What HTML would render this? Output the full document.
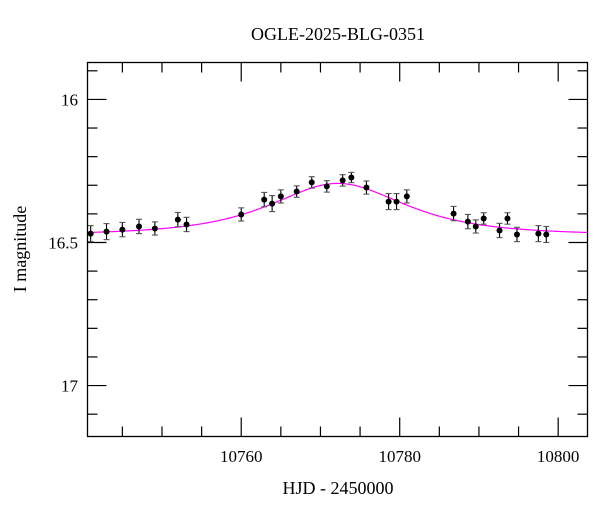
<!DOCTYPE html>
<html><head><meta charset="utf-8"><style>
html,body{margin:0;padding:0;background:#fff;}
svg{display:block;font-family:"Liberation Serif",serif;}
</style></head><body>
<svg id="chart" width="600" height="512" viewBox="0 0 600 512" xmlns="http://www.w3.org/2000/svg">
<text x="338" y="40" text-anchor="middle" font-size="18">OGLE-2025-BLG-0351</text>
<text x="338" y="494" text-anchor="middle" font-size="18">HJD - 2450000</text>
<text transform="translate(26,249) rotate(-90)" text-anchor="middle" font-size="18">I magnitude</text>
<g id="ticks"></g>
<g id="model"></g>
<g id="points"></g>
<rect x="87.5" y="62.5" width="500" height="374" fill="none" stroke="#000" stroke-width="1.3"/>
</svg>
<script>
const times=[10741,10743,10745,10747.1,10749.1,10752,10753.1,10760,10762.9,10763.9,10765,10767,10768.9,10770.8,10772.8,10773.9,10775.8,10778.6,10779.6,10780.9,10786.8,10788.6,10789.6,10790.6,10792.6,10793.6,10794.8,10797.5,10798.5];
const mags=[16.469,16.462,16.455,16.444,16.451,16.420,16.437,16.402,16.350,16.364,16.339,16.322,16.290,16.304,16.283,16.273,16.308,16.357,16.357,16.339,16.399,16.427,16.444,16.416,16.458,16.416,16.472,16.469,16.472];
const errs=[0.028,0.028,0.025,0.025,0.023,0.025,0.025,0.023,0.025,0.028,0.023,0.020,0.020,0.020,0.020,0.018,0.023,0.028,0.028,0.023,0.025,0.025,0.023,0.020,0.025,0.020,0.025,0.028,0.028];
const xTickLabels=[10760,10780,10800];
const yTickLabels=[16,16.5,17];
const model={t0:10772.2,tE:10.5,u0:1.0,fs:0.526,base:16.473};
const X0=10740.6,X1=10803.7,Y0=15.871,Y1=17.178;
const L=87.5,R=587.5,T=62.5,B=436.5;
const sx=t=>L+(t-X0)/(X1-X0)*(R-L);
const sy=m=>T+(m-Y0)/(Y1-Y0)*(B-T);
const NS="http://www.w3.org/2000/svg";
function mk(tag,parent,attrs){const e=document.createElementNS(NS,tag);for(const k in attrs)e.setAttribute(k,attrs[k]);parent.appendChild(e);return e;}
const tg=document.getElementById('ticks');
for(let t=10745;t<=10800;t+=5){
  const major=(t%20===0);const len=major?19:10;const x=sx(t);
  const l1=mk('line',tg,{x1:x,x2:x,y1:B,y2:B-len,stroke:'#000','stroke-width':1.2});
  
  
  const l2=mk('line',tg,{x1:x,x2:x,y1:T,y2:T+len,stroke:'#000','stroke-width':1.2});
  
  
}
xTickLabels.forEach(v=>{
  const tx=mk('text',tg,{x:sx(v),y:462,'text-anchor':'middle','font-size':17});
  tx.textContent=v;
  
  
});
for(let i=0;i<=12;i++){
  const m=15.9+i*0.1;if(m<Y0||m>Y1)continue;
  const major=Math.abs(m*2-Math.round(m*2))<1e-6;const len=major?19:10;const y=sy(m);
  const l1=mk('line',tg,{x1:L,x2:L+len,y1:y,y2:y,stroke:'#000','stroke-width':1.2});
  
  
  const l2=mk('line',tg,{x1:R,x2:R-len,y1:y,y2:y,stroke:'#000','stroke-width':1.2});
  
  
}
yTickLabels.forEach(v=>{
  const tx=mk('text',tg,{x:78,y:sy(v)+6,'text-anchor':'end','font-size':17});
  tx.textContent=v;
  
  
});
const mg=document.getElementById('model');
let d='';
for(let t=X0;t<=X1+0.01;t+=0.2){
  const u=Math.sqrt(model.u0*model.u0+Math.pow((t-model.t0)/model.tE,2));
  const A=(u*u+2)/(u*Math.sqrt(u*u+4));
  const m=model.base-2.5*Math.log10(1+model.fs*(A-1));
  d+=(d?'L':'M')+sx(t).toFixed(2)+','+sy(m).toFixed(2);
}
const p=mk('path',mg,{d:d,fill:'none',stroke:'#ff00ff','stroke-width':1.2});


const pg=document.getElementById('points');
times.forEach((t,i)=>{
  const x=sx(t),y=sy(mags[i]),y1=sy(mags[i]-errs[i]),y2=sy(mags[i]+errs[i]);
  const g=mk('g',pg,{});
  
  
  mk('line',g,{x1:x,x2:x,y1:y1,y2:y2,stroke:'#000','stroke-width':1.1});
  mk('line',g,{x1:x-3,x2:x+3,y1:y1,y2:y1,stroke:'#555','stroke-width':1.1});
  mk('line',g,{x1:x-3,x2:x+3,y1:y2,y2:y2,stroke:'#555','stroke-width':1.1});
  mk('circle',g,{cx:x,cy:y,r:3,fill:'#000'});
});
</script>
</body></html>
